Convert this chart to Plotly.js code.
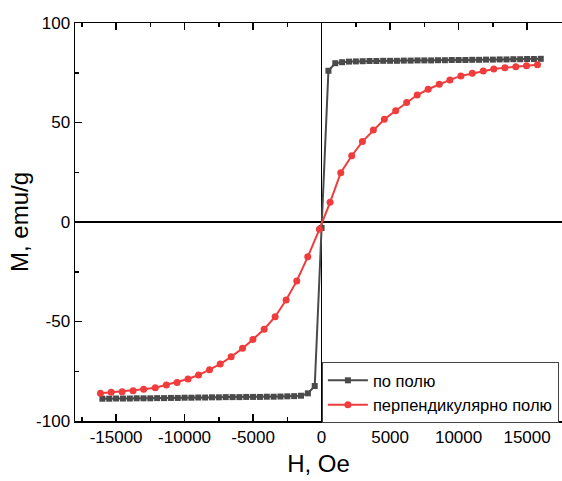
<!DOCTYPE html>
<html>
<head>
<meta charset="utf-8">
<script src="https://cdn.plot.ly/plotly-3.0.1.min.js"></script>
<style>html,body{margin:0;padding:0;background:#fff;overflow:hidden;}#chart{width:562px;height:481px;}</style>
</head>
<body>
<div id="chart"></div>
<script>
// Series 1: "по полю" (along the field)
const hAlong = [-16000,-15500,-15000,-14500,-14000,-13500,-13000,-12500,-12000,-11500,-11000,-10500,-10000,-9500,-9000,-8500,-8000,-7500,-7000,-6500,-6000,-5500,-5000,-4500,-4000,-3500,-3000,-2500,-2000,-1500,-1000,-500,0,500,1000,1500,2000,2500,3000,3500,4000,4500,5000,5500,6000,6500,7000,7500,8000,8500,9000,9500,10000,10500,11000,11500,12000,12500,13000,13500,14000,14500,15000,15500,16000];
const mAlong = [-88.8,-88.8,-88.7,-88.7,-88.7,-88.6,-88.6,-88.6,-88.5,-88.5,-88.4,-88.4,-88.3,-88.3,-88.2,-88.2,-88.1,-88.1,-88.0,-88.0,-88.0,-87.9,-87.9,-87.9,-87.8,-87.8,-87.7,-87.6,-87.5,-87.3,-86.1,-82.4,-3.0,76.0,79.8,80.3,80.6,80.7,80.8,80.9,80.9,81.0,81.0,81.0,81.1,81.1,81.2,81.2,81.2,81.3,81.3,81.4,81.4,81.4,81.5,81.5,81.6,81.6,81.7,81.7,81.8,81.8,81.9,81.9,82.0];
// Series 2: "перпендикулярно полю" (perpendicular to the field)
const hPerp = [-16140,-15360,-14560,-13760,-12990,-12140,-11330,-10550,-9750,-8980,-8180,-7400,-6600,-5770,-5010,-4190,-3390,-2590,-1810,-1010,-160,620,1400,2200,2980,3780,4580,5410,6210,6980,7780,8590,9370,10170,11000,11800,12570,13380,14180,14960,15760];
const mPerp = [-86.1,-85.6,-85.3,-84.8,-84.1,-83.3,-81.9,-80.6,-78.9,-76.9,-74.2,-71.4,-67.7,-63.5,-59.0,-53.9,-47.6,-39.2,-29.6,-17.5,-3.7,9.9,24.8,33.3,40.4,46.2,51.6,55.9,60.0,63.8,66.7,69.2,71.4,73.4,74.7,75.9,76.9,77.5,78.0,78.5,79.0];
const names = ["по полю", "перпендикулярно полю"];
const xTicks = [-15000,-10000,-5000,0,5000,10000,15000];
const yTicks = [-100,-50,0,50,100];

const FONT = "'Liberation Sans', Arial, sans-serif";
const traces = [
  {x: hAlong, y: mAlong, name: names[0], type: 'scatter', mode: 'lines+markers',
   line: {color: '#4a4a4a', width: 2}, marker: {symbol: 'square', size: 6, color: '#4a4a4a'}},
  {x: hPerp, y: mPerp, name: names[1], type: 'scatter', mode: 'lines+markers',
   line: {color: '#f03c3c', width: 2}, marker: {symbol: 'circle', size: 7, color: '#f03c3c'}}
];
const layout = {
  width: 562, height: 481,
  margin: {l: 75, r: 0, t: 23, b: 60, pad: 0, autoexpand: false},
  paper_bgcolor: '#fff', plot_bgcolor: '#fff',
  font: {family: FONT, size: 17, color: '#000'},
  showlegend: true,
  legend: {x: 0.507, y: 0.148, xanchor: 'left', yanchor: 'top', bgcolor: '#fff',
           bordercolor: '#444', borderwidth: 1, font: {family: FONT, size: 16.5, color: '#000'},
           tracegroupgap: 0, itemwidth: 40},
  xaxis: {range: [-18000, 17550], tickvals: xTicks, ticktext: xTicks.map(String),
          ticks: 'inside', ticklen: 7, tickwidth: 1.5, tickcolor: '#000',
          minor: {dtick: 2500, ticks: 'inside', ticklen: 4, tickwidth: 1.5, tickcolor: '#000', showgrid: false},
          showline: true, linecolor: '#000', linewidth: 1.5, mirror: 'ticks',
          showgrid: false, zeroline: true, zerolinecolor: '#000', zerolinewidth: 1.5,
          title: {text: 'H, Oe', font: {family: FONT, size: 24, color: '#000'}, standoff: 9},
          tickfont: {family: FONT, size: 17, color: '#000'}},
  yaxis: {range: [-100, 100], tickvals: yTicks, ticktext: yTicks.map(String),
          ticks: 'inside', ticklen: 7, tickwidth: 1.5, tickcolor: '#000',
          minor: {dtick: 25, ticks: 'inside', ticklen: 4, tickwidth: 1.5, tickcolor: '#000', showgrid: false},
          showline: true, linecolor: '#000', linewidth: 1.5, mirror: false,
          showgrid: false, zeroline: true, zerolinecolor: '#000', zerolinewidth: 1.5,
          title: {text: 'M, emu/g', font: {family: FONT, size: 24, color: '#000'}, standoff: 0},
          tickfont: {family: FONT, size: 17, color: '#000'}}
};
Plotly.newPlot('chart', traces, layout, {displayModeBar: false, staticPlot: true});
</script>
</body>
</html>
